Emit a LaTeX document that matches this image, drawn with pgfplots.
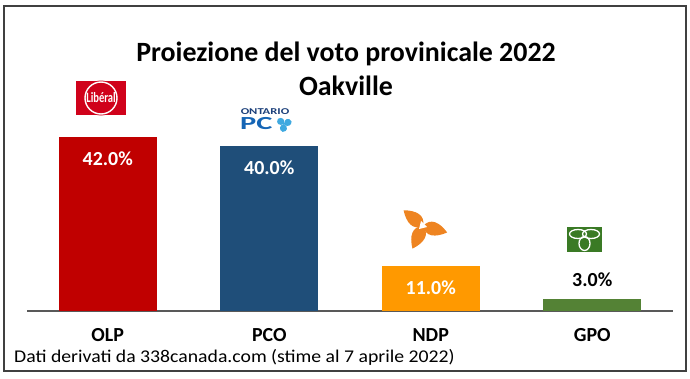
\documentclass[border=0pt]{standalone}
\usepackage{fontspec}
\setmainfont{Carlito}
\usepackage{pgfplots}
\pgfplotsset{compat=1.18}
\definecolor{olp}{HTML}{C00000}
\definecolor{pco}{HTML}{1F4E79}
\definecolor{ndp}{HTML}{FF9900}
\definecolor{gpo}{HTML}{548235}
\definecolor{libred}{HTML}{D0021B}
\definecolor{pcnavy}{HTML}{1B3F7A}
\definecolor{pcblue}{HTML}{1565B5}
\definecolor{pcleaf}{HTML}{3FA9E0}
\definecolor{ndporange}{HTML}{EE8421}
\definecolor{gpogreen}{HTML}{3A7A25}
\definecolor{framegray}{HTML}{404040}
\begin{document}
\begin{tikzpicture}[x=1bp,y=1bp]
\path (0,0) rectangle (690,378);
\draw[line width=1.5bp, color=framegray] (4,7) rectangle (686,372);
\begin{axis}[
  at={(27bp,67bp)}, anchor=south west,
  scale only axis, width=646bp, height=248bp,
  xmin=-0.5, xmax=3.5, ymin=0, ymax=60,
  ybar, bar width=98bp,
  axis x line=bottom, axis y line=none,
  x axis line style={-, line width=2bp, color=black!65},
  xtick={0,1,2,3}, xticklabels={OLP,PCO,NDP,GPO},
  major tick length=0pt, ytick=\empty,
  xticklabel style={font=\bfseries\fontsize{20}{24}\selectfont, yshift=-14bp},
  /pgf/number format/assume math mode=true,
  nodes near coords={\pgfmathprintnumber[fixed,fixed zerofill,precision=1]{\pgfplotspointmeta}\%},
  every node near coord/.append style={font=\bfseries\fontsize{20}{24}\selectfont},
  clip=false,
]
\addplot[fill=olp, draw=none, bar shift=0pt,
  every node near coord/.append style={anchor=center, yshift=-21bp, text=white}] coordinates {(0,42.0)};
\addplot[fill=pco, draw=none, bar shift=0pt,
  every node near coord/.append style={anchor=center, yshift=-22bp, text=white}] coordinates {(1,40.0)};
\addplot[fill=ndp, draw=none, bar shift=0pt,
  every node near coord/.append style={anchor=center, yshift=-22bp, text=white}] coordinates {(2,11.0)};
\addplot[fill=gpo, draw=none, bar shift=0pt,
  every node near coord/.append style={anchor=center, yshift=19bp, text=black}] coordinates {(3,3.0)};
\end{axis}
% titles
\node[anchor=base, font=\bfseries\fontsize{28}{30}\selectfont, inner sep=0pt] at (346,317) {Proiezione del voto provinicale 2022};
\node[anchor=base, font=\bfseries\fontsize{28}{30}\selectfont, inner sep=0pt] at (346,283) {Oakville};
\node[anchor=base west, font=\fontsize{18}{20}\selectfont, inner sep=0pt] at (14,16) {\scalebox{1.1}[1]{Dati derivati da 338canada.com (stime al 7 aprile 2022)}};
% Liberal logo
\fill[libred] (76,263) rectangle (126,297);
\fill[libred] (101,280) circle (17.5);
\draw[white, line width=1.4bp] (101,280) circle (16);
\node[text=white, font=\bfseries\fontsize{12.5}{12}\selectfont, inner sep=0pt] at (101,280) {\scalebox{0.85}[1.15]{Libéral}};
% PC logo
\node[text=pcnavy, font=\bfseries\fontsize{9}{9}\selectfont, inner sep=0pt] at (265,266) {\scalebox{1.4}[1]{ONTARIO}};
\node[text=pcblue, font=\bfseries\fontsize{18.5}{19}\selectfont, inner sep=0pt, anchor=west] at (240,254) {\scalebox{1.65}[1]{PC}};
\foreach \a in {20,140,260}{
  \fill[pcleaf, rotate around={\a:(284,254)}] (284,254) .. controls (286,259) and (291,259) .. (292,254) .. controls (291,250) and (286,249) .. (284,254);
}
% NDP logo
\foreach \a in {141,-15,245}{
  \fill[ndporange, rotate around={\a:(423,152)}] (423,152) .. controls (428,162) and (438,160) .. (448,152) .. controls (438,144) and (428,142) .. (423,152);
}
\fill[white] (419,149) -- (427,151) -- (421,157) -- cycle;
% GPO logo
\fill[gpogreen] (567,126) rectangle (602,151);
\draw[white, line width=1.3bp] (578,144) ellipse (8.5 and 4.5);
\draw[white, line width=1.3bp] (591,144) ellipse (8.5 and 4.5);
\draw[white, line width=1.3bp] (584.5,134.5) ellipse (5.5 and 7);
\end{tikzpicture}
\end{document}
